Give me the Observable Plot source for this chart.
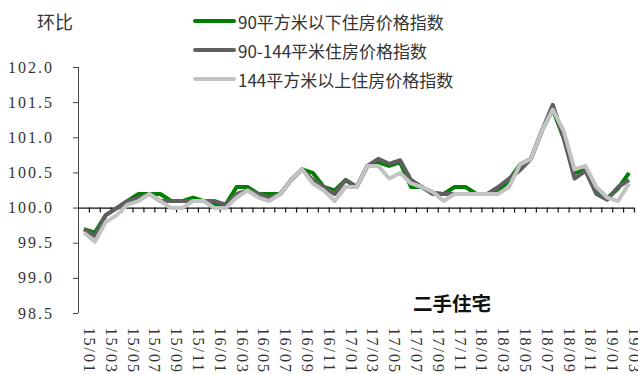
<!DOCTYPE html>
<html>
<head>
<meta charset="utf-8">
<script src="https://cdn.jsdelivr.net/npm/d3@7"></script>
<script src="https://cdn.jsdelivr.net/npm/@observablehq/plot@0.6"></script>
<style>
  body { margin: 0; background: #fff; }
  #chart { position: relative; width: 638px; height: 374px; font-family: "Noto Sans CJK SC", sans-serif; color: #222; }
  .overlay { position: absolute; white-space: nowrap; line-height: 1; }
  .legend-row { position: absolute; left: 193px; display: flex; align-items: center; font-size: 17px; color: #333; white-space: nowrap; }
  .legend-row .swatch { width: 43px; height: 4px; border-radius: 2px; margin-right: 2px; }
</style>
</head>
<body>
<div id="chart"></div>
<script>
// Month labels, 2015-01 to 2019-03
const months = [
  "15/01","15/02","15/03","15/04","15/05","15/06","15/07","15/08","15/09","15/10","15/11","15/12",
  "16/01","16/02","16/03","16/04","16/05","16/06","16/07","16/08","16/09","16/10","16/11","16/12",
  "17/01","17/02","17/03","17/04","17/05","17/06","17/07","17/08","17/09","17/10","17/11","17/12",
  "18/01","18/02","18/03","18/04","18/05","18/06","18/07","18/08","18/09","18/10","18/11","18/12",
  "19/01","19/02","19/03"
];

const seriesNames = ["90平方米以下住房价格指数", "90-144平米住房价格指数", "144平方米以上住房价格指数"];
const seriesColors = ["#008000", "#5f5f5f", "#c3c3c3"];

// Month-on-month second-hand housing price index by floor area
const small = [
  99.7, 99.65, 99.9, 100.0, 100.1, 100.2, 100.2, 100.2, 100.1, 100.1, 100.15, 100.1,
  100.05, 100.05, 100.3, 100.3, 100.2, 100.2, 100.2, 100.4, 100.55, 100.5, 100.3, 100.25,
  100.4, 100.3, 100.6, 100.65, 100.6, 100.65, 100.3, 100.3, 100.22, 100.2, 100.3, 100.3,
  100.2, 100.2, 100.23, 100.4, 100.62, 100.7, 101.1, 101.4, 101.0, 100.5, 100.55, 100.26,
  100.14, 100.28, 100.5
];
const medium = [
  99.7, 99.6, 99.9, 100.0, 100.1, 100.15, 100.2, 100.1, 100.1, 100.1, 100.1, 100.1,
  100.1, 100.05, 100.2, 100.25, 100.2, 100.15, 100.2, 100.4, 100.55, 100.4, 100.3, 100.2,
  100.4, 100.3, 100.6, 100.7, 100.63, 100.68, 100.4, 100.3, 100.2, 100.2, 100.2, 100.2,
  100.2, 100.2, 100.3, 100.42, 100.54, 100.7, 101.1, 101.47, 101.0, 100.42, 100.53, 100.2,
  100.12, 100.3, 100.4
];
const large = [
  99.65, 99.52, 99.8, 99.9, 100.05, 100.1, 100.2, 100.1, 100.0, 100.0, 100.1, 100.1,
  100.0, 100.0, 100.15, 100.25, 100.15, 100.1, 100.2, 100.4, 100.55, 100.35, 100.25, 100.1,
  100.3, 100.3, 100.6, 100.6, 100.42, 100.5, 100.35, 100.3, 100.23, 100.1, 100.2, 100.2,
  100.2, 100.2, 100.2, 100.3, 100.62, 100.7, 101.1, 101.4, 101.1, 100.55, 100.6, 100.3,
  100.15, 100.1, 100.35
];

const yTicks = [98.5, 99.0, 99.5, 100.0, 100.5, 101.0, 101.5, 102.0];

const valueSets = [small, medium, large];
const data = valueSets.flatMap((vals, s) =>
  vals.map((v, i) => ({series: seriesNames[s], i, month: months[i], v}))
);
const monthIndex = months.map((m, i) => i);
const labelIndex = monthIndex.filter(i => i % 2 === 0);
const boundaries = monthIndex.map(i => i + 0.5);
const numFont = "'Liberation Serif', 'DejaVu Serif', serif";
const axisLeft = 78;

const plot = Plot.plot({
  width: 638,
  height: 374,
  marginLeft: axisLeft,
  marginRight: 4,
  marginTop: 67,
  marginBottom: 61,
  style: {fontSize: "16px", color: "#333", background: "#fff", overflow: "visible"},
  x: {type: "linear", domain: [-0.5, months.length - 0.5], axis: null},
  y: {domain: [98.5, 102], axis: null},
  color: {domain: seriesNames, range: seriesColors},
  marks: [
    // y axis: line, outward ticks and labels
    Plot.ruleX([-0.5], {stroke: "#444", strokeWidth: 1}),
    Plot.tickY(yTicks, {y: d => d, stroke: "#444", strokeWidth: 1}),
    Plot.text(yTicks, {
      y: d => d, x: -0.5, text: d => d3.format(".1f")(d), textAnchor: "end",
      fill: "#333", fontSize: 16
    }),
    // x axis crossing at 100 with month boundary ticks
    Plot.ruleY([100], {stroke: "#111", strokeWidth: 1.2}),
    Plot.ruleX(boundaries, {x: d => d, y1: 100, y2: 100, insetBottom: -5, stroke: "#111", strokeWidth: 1.2}),
    // series lines
    Plot.line(data, {x: "i", y: "v", z: "series", stroke: "series", strokeWidth: 4, strokeLinejoin: "round", strokeLinecap: "butt"}),
    // month labels, rotated, below the plot area
    Plot.text(labelIndex, {
      x: d => d, text: d => months[d], frameAnchor: "bottom", rotate: 90,
      textAnchor: "start", dy: 14, fill: "#333", fontSize: 16
    })
  ]
});

const svg = d3.select(plot);
// numeric labels: serif face with wide character spacing
svg.selectAll("text")
  .attr("font-family", numFont)
  .attr("letter-spacing", "2")
  .style("font-family", numFont)
  .style("letter-spacing", "2px");
// y tick marks: short outward ticks just left of the axis line
svg.selectAll('g[aria-label="tick"] line')
  .attr("x1", axisLeft - 5).attr("x2", axisLeft);

const chart = document.getElementById("chart");
chart.appendChild(plot);

// y labels end a little left of the tick marks
const textGroups = svg.selectAll('g[aria-label="text"]').nodes();
if (textGroups.length) {
  const svgLeft = plot.getBoundingClientRect().left;
  d3.select(textGroups[0]).selectAll("text").each(function() {
    const right = this.getBoundingClientRect().right - svgLeft;
    const cur = +this.getAttribute("x") || 0;
    this.setAttribute("x", cur + (axisLeft - 24) - right);
  });
}

// texts around the plot
const unit = document.createElement("div");
unit.className = "overlay";
unit.textContent = "环比";
Object.assign(unit.style, {left: "37px", top: "12px", fontSize: "18px", color: "#333"});
chart.appendChild(unit);

const title = document.createElement("div");
title.className = "overlay";
title.textContent = "二手住宅";
Object.assign(title.style, {left: "413px", top: "293px", fontSize: "19.5px", fontWeight: "bold", color: "#111"});
chart.appendChild(title);

// legend
const rowTops = [21, 50, 79];
seriesNames.forEach((name, s) => {
  const row = document.createElement("div");
  row.className = "legend-row";
  row.style.top = (rowTops[s] - 11) + "px";
  row.style.height = "22px";
  const sw = document.createElement("span");
  sw.className = "swatch";
  sw.style.background = seriesColors[s];
  const label = document.createElement("span");
  label.textContent = name;
  row.appendChild(sw);
  row.appendChild(label);
  chart.appendChild(row);
});
</script>
</body>
</html>
